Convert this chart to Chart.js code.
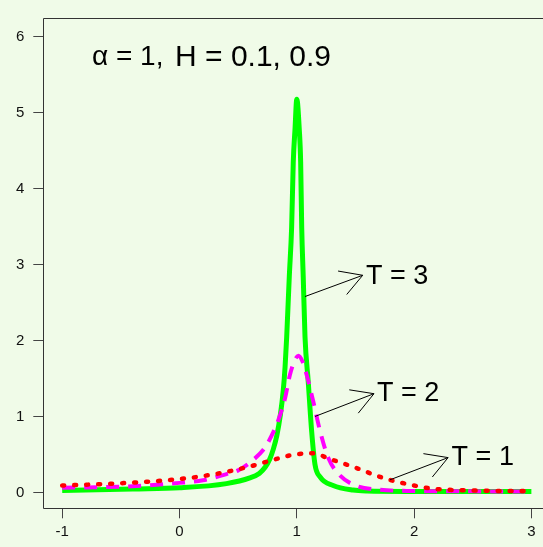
<!DOCTYPE html>
<html>
<head>
<meta charset="utf-8">
<script src="https://cdn.jsdelivr.net/npm/chart.js@4.4.1/dist/chart.umd.min.js"></script>
<style>
  html, body { margin: 0; padding: 0; background: #f0fbe8; overflow: hidden; }
</style>
</head>
<body>
<canvas id="densityChart" width="543" height="547"></canvas>
<script>
// ---- data ----
var xT3 = [-1, -0.4, 0, 0.4, 0.6, 0.68, 0.73, 0.77, 0.8, 0.83, 0.86, 0.885, 0.9, 0.914, 0.936, 0.956, 0.97, 0.985, 1.0, 1.021, 1.033, 1.042, 1.055, 1.07, 1.098, 1.127, 1.155, 1.2, 1.31, 1.48, 1.6, 2, 2.5, 3];
var yT3 = [0.025, 0.045, 0.06, 0.115, 0.19, 0.25, 0.33, 0.44, 0.57, 0.75, 1.02, 1.35, 1.65, 2.05, 2.84, 3.49, 4.35, 4.79, 5.18, 4.79, 4.35, 3.49, 2.84, 2.05, 1.45, 0.8, 0.37, 0.2, 0.09, 0.03, 0.018, 0.012, 0.01, 0.01];

var xT2 = [-1, -0.4, 0, 0.2, 0.4, 0.5, 0.63, 0.72, 0.76, 0.83, 0.86, 0.9, 0.94, 0.98, 1.013, 1.05, 1.084, 1.14, 1.2, 1.27, 1.37, 1.51, 1.7, 2.0, 2.5, 3];
var yT2 = [0.06, 0.08, 0.125, 0.16, 0.24, 0.29, 0.43, 0.57, 0.67, 0.9, 1.03, 1.24, 1.54, 1.73, 1.80, 1.72, 1.55, 1.2, 0.8, 0.45, 0.22, 0.085, 0.035, 0.018, 0.013, 0.012];

var xT1 = [-1, -0.5, 0, 0.3, 0.59, 0.77, 0.95, 1.05, 1.14, 1.28, 1.34, 1.51, 1.68, 1.79, 1.97, 2.15, 2.45, 3];
var yT1 = [0.09, 0.12, 0.175, 0.24, 0.337, 0.415, 0.49, 0.51, 0.515, 0.44, 0.41, 0.32, 0.22, 0.165, 0.1, 0.05, 0.026, 0.017];

var xTicks = [-1, 0, 1, 2, 3];
var yTicks = [0, 1, 2, 3, 4, 5, 6];

var labels = ['T = 3', 'T = 2', 'T = 1'];
var arrowFrom = [[1.07, 2.58], [1.155, 1.0], [1.794, 0.165]];
var arrowTo = [[1.562, 2.86], [1.658, 1.30], [2.29, 0.458]];
var labelAt = [[1.59, 2.85], [1.684, 1.30], [2.32, 0.46]];
var titleParts = ['\u03b1 = 1,', 'H = 0.1, 0.9'];
var titleAt = [[-0.746, 5.73], [-0.038, 5.73]];
var titleSizes = [28, 30];

var FONT = '"Liberation Sans", Arial, sans-serif';

function points(xs, ys) {
  return xs.map(function (x, i) { return { x: x, y: ys[i] }; });
}

var paperPlugin = {
  id: 'paper',
  beforeDraw: function (chart) {
    var ctx = chart.ctx;
    ctx.save();
    ctx.fillStyle = '#f0fbe8';
    ctx.fillRect(0, 0, chart.width, chart.height);
    ctx.restore();
  },
  beforeDatasetsDraw: function (chart) {
    var a = chart.chartArea, ctx = chart.ctx;
    ctx.save();
    ctx.strokeStyle = '#333';
    ctx.lineWidth = 1;
    ctx.beginPath();
    ctx.moveTo(a.right + 5, Math.round(a.top) + 0.5);
    ctx.lineTo(Math.round(a.left) + 0.5, Math.round(a.top) + 0.5);
    ctx.lineTo(Math.round(a.left) + 0.5, Math.round(a.bottom) + 0.5);
    ctx.lineTo(a.right + 5, Math.round(a.bottom) + 0.5);
    ctx.stroke();
    ctx.restore();
  },
  afterDatasetsDraw: function (chart) {
    var sx = chart.scales.x, sy = chart.scales.y, ctx = chart.ctx;
    ctx.save();
    ctx.strokeStyle = '#000';
    ctx.fillStyle = '#000';
    ctx.lineWidth = 1;
    ctx.textAlign = 'left';
    ctx.textBaseline = 'middle';
    for (var i = 0; i < labels.length; i++) {
      var x0 = sx.getPixelForValue(arrowFrom[i][0]), y0 = sy.getPixelForValue(arrowFrom[i][1]);
      var x1 = sx.getPixelForValue(arrowTo[i][0]), y1 = sy.getPixelForValue(arrowTo[i][1]);
      var ang = Math.atan2(y1 - y0, x1 - x0);
      ctx.beginPath();
      ctx.moveTo(x0, y0);
      ctx.lineTo(x1, y1);
      ctx.moveTo(x1 - 25 * Math.cos(ang - Math.PI / 6), y1 - 25 * Math.sin(ang - Math.PI / 6));
      ctx.lineTo(x1, y1);
      ctx.lineTo(x1 - 25 * Math.cos(ang + Math.PI / 6), y1 - 25 * Math.sin(ang + Math.PI / 6));
      ctx.stroke();
      ctx.font = '27px ' + FONT;
      ctx.fillText(labels[i], sx.getPixelForValue(labelAt[i][0]), sy.getPixelForValue(labelAt[i][1]));
    }
    // title, in two pieces like the original spacing
    titleParts.forEach(function (t, k) {
      ctx.font = titleSizes[k] + 'px ' + FONT;
      ctx.fillText(t, sx.getPixelForValue(titleAt[k][0]), sy.getPixelForValue(titleAt[k][1]));
    });
    ctx.restore();
  }
};

var axisGrid = { drawOnChartArea: false, drawTicks: true, tickLength: 10, color: '#444', lineWidth: 1 };

new Chart(document.getElementById('densityChart'), {
  type: 'line',
  data: {
    datasets: [
      { label: 'T = 1', data: points(xT1, yT1), borderColor: '#ff0000', borderWidth: 4.5,
        borderDash: [2, 10], borderCapStyle: 'round', cubicInterpolationMode: 'monotone', pointRadius: 0 },
      { label: 'T = 2', data: points(xT2, yT2), borderColor: '#ff00ff', borderWidth: 4,
        borderDash: [13, 9], cubicInterpolationMode: 'monotone', pointRadius: 0 },
      { label: 'T = 3', data: points(xT3, yT3), borderColor: '#00ff00', borderWidth: 5,
        cubicInterpolationMode: 'monotone', pointRadius: 0 }
    ]
  },
  options: {
    responsive: false,
    animation: false,
    devicePixelRatio: 1,
    layout: { padding: { top: 10.7, right: 0, left: 0, bottom: 0 } },
    plugins: { legend: { display: false }, tooltip: { enabled: false } },
    scales: {
      x: {
        type: 'linear', min: -1.161, max: 3.099,
        afterBuildTicks: function (s) { s.ticks = xTicks.map(function (v) { return { value: v }; }); },
        afterFit: function (s) { s.height = 38.7; },
        grid: axisGrid,
        border: { display: false },
        ticks: { color: '#111', font: { family: FONT, size: 15 }, padding: 5, maxRotation: 0, autoSkip: false }
      },
      y: {
        type: 'linear', min: -0.21, max: 6.25,
        afterBuildTicks: function (s) { s.ticks = yTicks.map(function (v) { return { value: v }; }); },
        afterFit: function (s) { s.width = 43.3; },
        grid: axisGrid,
        border: { display: false },
        ticks: { color: '#111', font: { family: FONT, size: 15 }, padding: 9 }
      }
    }
  },
  plugins: [paperPlugin]
});
</script>
</body>
</html>
